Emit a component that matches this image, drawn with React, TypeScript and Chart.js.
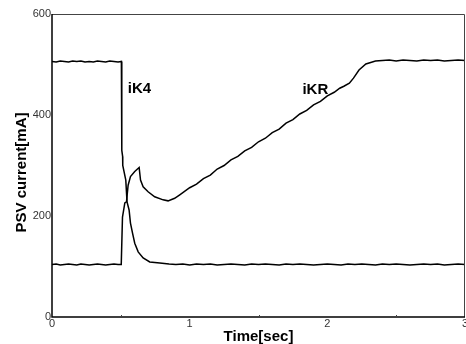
import React, { useEffect, useRef } from "react";
import { Chart, registerables } from "chart.js";

Chart.register(...registerables);

// iK4 current trace
const k4Time = [
  0, 0.03, 0.06, 0.09, 0.12, 0.15, 0.18, 0.21, 0.24, 0.27, 0.3, 0.33, 0.36, 0.39, 0.42, 0.45, 0.48, 0.504,
  0.507, 0.513, 0.514, 0.536, 0.545, 0.56, 0.57, 0.585, 0.601, 0.626, 0.662, 0.71, 0.783,
  0.85, 0.9, 0.95, 1.0, 1.05, 1.1, 1.15, 1.2, 1.25, 1.3, 1.35, 1.4, 1.45, 1.5, 1.55, 1.6, 1.65, 1.7, 1.75,
  1.8, 1.85, 1.9, 1.95, 2.0, 2.05, 2.1, 2.15, 2.2, 2.25, 2.3, 2.35, 2.4, 2.45, 2.5, 2.55, 2.6, 2.65, 2.7,
  2.75, 2.8, 2.85, 2.9, 2.95, 3.0,
];
const k4Current = [
  506, 505, 507, 506, 505, 507, 506, 507, 505, 506, 505, 507, 506, 505, 507, 506, 505, 506,
  330, 318, 300, 271, 228, 212, 186, 166, 146, 129, 117, 109, 107,
  105, 104, 105, 103, 105, 104, 105, 103, 104, 105, 104, 103, 105, 104, 105, 104, 103, 105, 104,
  105, 104, 103, 104, 105, 104, 103, 105, 104, 105, 104, 103, 105, 104, 105, 104, 103, 104, 105,
  104, 105, 103, 104, 105, 104,
];

// iKR current trace
const krTime = [
  0, 0.03, 0.06, 0.09, 0.12, 0.15, 0.18, 0.21, 0.24, 0.27, 0.3, 0.33, 0.36, 0.39, 0.42, 0.45, 0.48, 0.503,
  0.512, 0.529, 0.541, 0.553, 0.57, 0.601, 0.633, 0.643, 0.662, 0.698, 0.746, 0.807, 0.843, 0.891, 0.928,
  1.0, 1.05, 1.1, 1.15, 1.2, 1.25, 1.3, 1.35, 1.4, 1.45, 1.5, 1.55, 1.6, 1.65, 1.7, 1.75, 1.8, 1.85, 1.9,
  1.95, 2.0, 2.05, 2.09, 2.12, 2.16, 2.19, 2.23, 2.28, 2.35, 2.4, 2.45, 2.5, 2.55, 2.6, 2.65, 2.7, 2.75,
  2.8, 2.85, 2.9, 2.95, 3.0,
];
const krCurrent = [
  104, 105, 103, 104, 105, 104, 103, 105, 104, 103, 104, 105, 104, 103, 104, 105, 104, 104,
  198, 226, 228, 261, 278, 288, 296, 271, 258, 248, 238, 232, 230, 235, 242,
  256, 263, 274, 281, 293, 300, 311, 318, 329, 336, 347, 354, 365, 372, 384, 391, 402, 409, 420,
  427, 438, 445, 453, 457, 463, 473, 489, 501, 507, 508, 509, 507, 509, 508, 507, 509, 508,
  509, 507, 508, 509, 508,
];

const seriesLabels = ["iK4", "iKR"];
const labelPos = [
  { t: 0.551, v: 444 },
  { t: 1.819, v: 442 },
];
const xTitle = "Time[sec]";
const yTitle = "PSV current[mA]";

const FONT = "'Liberation Sans', Arial, sans-serif";

export default function App() {
  const ref = useRef<HTMLCanvasElement | null>(null);

  useEffect(() => {
    if (!ref.current) return;
    const toPts = (ts: number[], vs: number[]) => ts.map((t, i) => ({ x: t, y: vs[i] }));

    const decor = {
      id: "decor",
      afterDraw(chart: any) {
        const { ctx, chartArea: a, scales } = chart;
        ctx.save();
        // frame
        ctx.strokeStyle = "#444";
        ctx.lineWidth = 1;
        ctx.beginPath();
        ctx.moveTo(a.left, a.top + 0.5);
        ctx.lineTo(a.right - 0.5, a.top + 0.5);
        ctx.lineTo(a.right - 0.5, a.bottom);
        ctx.stroke();
        ctx.strokeStyle = "#000";
        ctx.lineWidth = 1.5;
        ctx.beginPath();
        ctx.moveTo(a.left, a.top);
        ctx.lineTo(a.left, a.bottom);
        ctx.lineTo(a.right, a.bottom);
        ctx.stroke();
        // minor ticks on x axis
        ctx.lineWidth = 1;
        ctx.strokeStyle = "#444";
        [0.5, 1.5, 2.5].forEach((t) => {
          const px = Math.round(scales.x.getPixelForValue(t)) + 0.5;
          ctx.beginPath();
          ctx.moveTo(px, a.bottom);
          ctx.lineTo(px, a.bottom - 2);
          ctx.stroke();
        });
        // series labels
        ctx.fillStyle = "#000";
        ctx.font = `bold 15px ${FONT}`;
        ctx.textAlign = "left";
        ctx.textBaseline = "alphabetic";
        seriesLabels.forEach((s, i) => {
          ctx.fillText(s, scales.x.getPixelForValue(labelPos[i].t), scales.y.getPixelForValue(labelPos[i].v));
        });
        // axis titles
        ctx.textAlign = "center";
        ctx.textBaseline = "middle";
        ctx.fillText(xTitle, (a.left + a.right) / 2, 337);
        ctx.translate(21.5, 172.5);
        ctx.rotate(-Math.PI / 2);
        ctx.fillText(yTitle, 0, 0);
        ctx.restore();
      },
    };

    const chart = new Chart(ref.current, {
      type: "line",
      data: {
        datasets: [
          {
            label: seriesLabels[0],
            data: toPts(k4Time, k4Current),
            borderColor: "#000",
            borderWidth: 1.5,
            pointRadius: 0,
            tension: 0,
            fill: false,
          },
          {
            label: seriesLabels[1],
            data: toPts(krTime, krCurrent),
            borderColor: "#000",
            borderWidth: 1.5,
            pointRadius: 0,
            tension: 0,
            fill: false,
          },
        ],
      },
      options: {
        responsive: false,
        animation: false,
        devicePixelRatio: 1,
        layout: { padding: { left: 0, top: 14, right: 1, bottom: 0 } },
        plugins: { legend: { display: false }, tooltip: { enabled: false }, title: { display: false } },
        scales: {
          x: {
            type: "linear",
            min: 0,
            max: 3,
            grid: { display: false, drawTicks: false },
            border: { display: false },
            ticks: {
              stepSize: 1,
              padding: 0,
              maxRotation: 0,
              autoSkip: false,
              color: "#333",
              font: { family: FONT, size: 11 },
            },
            afterFit: (s: any) => {
              s.height = 27;
              s.paddingLeft = 0;
              s.paddingRight = 0;
            },
          },
          y: {
            min: 0,
            max: 600,
            grid: { display: false, drawTicks: false },
            border: { display: false },
            ticks: {
              stepSize: 200,
              padding: 1,
              color: "#333",
              font: { family: FONT, size: 11 },
            },
            afterFit: (s: any) => {
              s.width = 52;
              s.paddingTop = 0;
              s.paddingBottom = 0;
            },
          },
        },
      },
      plugins: [decor],
    });
    return () => chart.destroy();
  }, []);

  return (
    <div style={{ position: "absolute", left: 0, top: 0, width: 466, height: 344, background: "#fff" }}>
      <canvas ref={ref} width={466} height={344} />
    </div>
  );
}
